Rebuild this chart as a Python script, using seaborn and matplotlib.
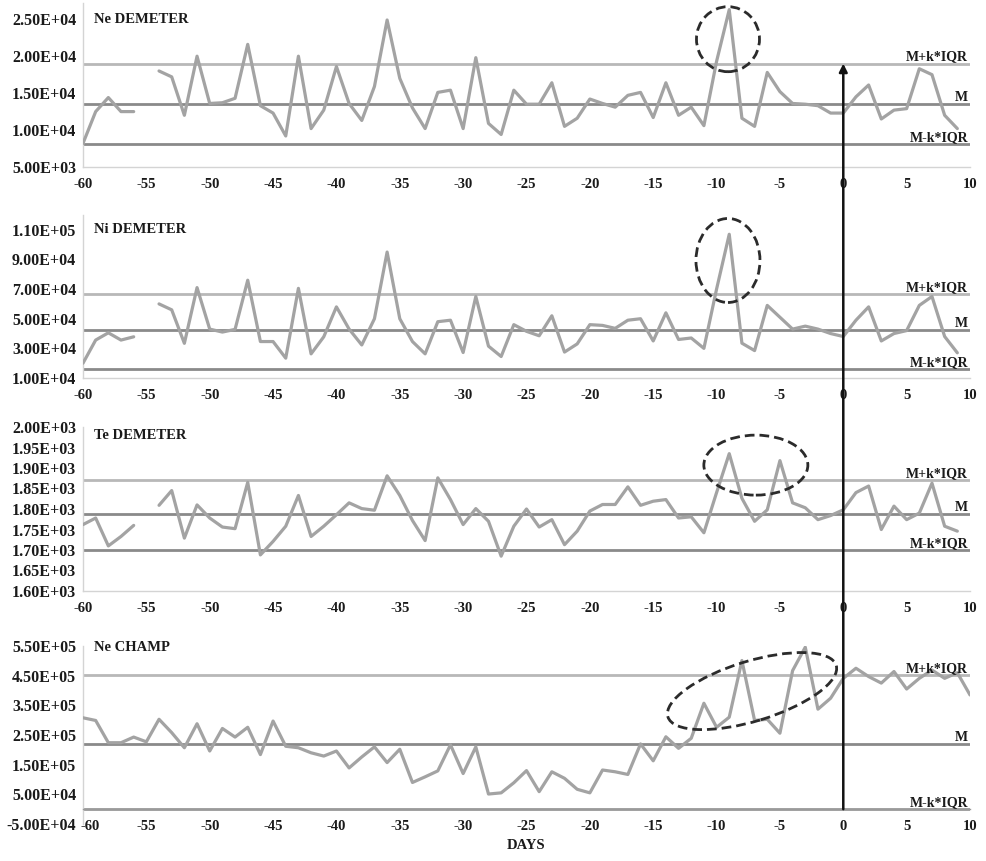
import numpy as np
import pandas as pd
import matplotlib
matplotlib.use("Agg")
import matplotlib.pyplot as plt
import seaborn as sns
from matplotlib.patches import Ellipse
from matplotlib.transforms import ScaledTranslation, blended_transform_factory, offset_copy

nan = np.nan

# ---------------- data ----------------
days_demeter = list(range(-60, 10))
days_champ = list(range(-60, 11))

ne_demeter = [8200, 12500, 14400, 12500, 12500, nan, 18000, 17200, 12000, 20000,
              13600, 13700, 14300, 21600, 13300, 12300, 9200, 20000, 10200, 12700,
              18600, 13600, 11300, 15900, 24900, 17000, 13000, 10200, 15100, 15400,
              10200, 19800, 10900, 9400, 15400, 13500, 13500, 16400, 10500, 11600,
              14200, 13600, 13100, 14700, 15100, 11700, 16400, 12000, 13100, 10600,
              19300, 26300, 11600, 10500, 17800, 15200, 13600, 13500, 13300, 12300,
              12300, 14500, 16100, 11500, 12700, 12900, 18300, 17500, 12000, 10200]

ni_demeter = [20000, 35600, 40500, 35600, 37800, nan, 60000, 56000, 33400, 71000,
              43000, 41000, 42800, 76000, 34600, 34600, 23400, 70500, 26300, 37800,
              58000, 43000, 32300, 50000, 95000, 50000, 34600, 26300, 48000, 49000,
              27200, 65000, 31500, 24500, 46000, 41500, 38500, 52000, 27500, 33000,
              46000, 45500, 43500, 49000, 50000, 35000, 54000, 36000, 37000, 30000,
              70000, 107000, 33500, 28500, 59000, 51000, 43000, 45000, 43000, 40000,
              38000, 49000, 58000, 35000, 40000, 42000, 59000, 65000, 38000, 27000]

te_demeter = [1762, 1778, 1710, 1733, 1760, nan, 1809, 1845, 1729, 1810,
              1778, 1756, 1752, 1865, 1688, 1721, 1758, 1833, 1733, 1758,
              1786, 1815, 1801, 1797, 1881, 1833, 1772, 1723, 1876, 1823,
              1762, 1801, 1770, 1685, 1758, 1800, 1756, 1774, 1713, 1746,
              1795, 1811, 1811, 1854, 1809, 1819, 1823, 1778, 1781, 1742,
              1840, 1935, 1826, 1770, 1798, 1918, 1815, 1803, 1774, 1784,
              1798, 1840, 1856, 1750, 1807, 1774, 1790, 1863, 1758, 1746]

ne_champ = [308000, 299000, 224000, 224000, 243000, 227000, 303000, 258000, 207000, 288000,
            196000, 272000, 243000, 276000, 184000, 297000, 212000, 207000, 190000, 179000,
            196000, 139000, 176000, 210000, 157000, 202000, 90000, 109000, 129000, 217000,
            120000, 210000, 51000, 55000, 89000, 130000, 59000, 126000, 104000, 67000,
            55000, 132000, 126000, 117000, 220000, 163000, 244000, 205000, 239000, 357000,
            276000, 310000, 501000, 299000, 303000, 256000, 467000, 546000, 337000, 374000,
            441000, 475000, 447000, 425000, 464000, 405000, 441000, 469000, 441000, 460000,
            385000]

panel_titles = ["Ne DEMETER", "Ni DEMETER", "Te DEMETER", "Ne CHAMP"]
upper_limit = [19000, 66600, 1870, 452000]   # M+k*IQR
median_line = [13500, 42600, 1788, 221000]   # M
lower_limit = [8100, 16300, 1700, 0]         # M-k*IQR

ne_ticks = [5000, 10000, 15000, 20000, 25000]
ni_ticks = [10000, 30000, 50000, 70000, 90000, 110000]
te_ticks = [1600, 1650, 1700, 1750, 1800, 1850, 1900, 1950, 2000]
champ_ticks = [-50000, 50000, 150000, 250000, 350000, 450000, 550000]
x_ticks = [-60, -55, -50, -45, -40, -35, -30, -25, -20, -15, -10, -5, 0, 5, 10]

# ---------------- style ----------------
sns.set_style("white")
plt.rcParams["font.family"] = ["Liberation Serif", "DejaVu Serif"]
plt.rcParams["font.weight"] = "bold"

DPI = 100
fig = plt.figure(figsize=(9.86, 8.61), dpi=DPI)
W, H = 986, 861
left, right = 83, 970

def add_ax(top_px, bottom_px):
    return fig.add_axes([left / W, 1 - bottom_px / H, (right - left) / W, (bottom_px - top_px) / H])

ax1 = add_ax(3, 167)
ax2 = add_ax(215, 378)
ax3 = add_ax(427, 591)
ax4 = add_ax(646, 824)
axes = [ax1, ax2, ax3, ax4]

series = [(days_demeter, ne_demeter), (days_demeter, ni_demeter),
          (days_demeter, te_demeter), (days_champ, ne_champ)]
ylims = [(5000, 27200), (10000, 120000), (1600, 2000), (-50000, 550000)]
yticks = [ne_ticks, ni_ticks, te_ticks, champ_ticks]

DATA_C = "#a3a3a3"
MED_C = "#8a8a8a"
LIM_C = "#b8b8b8"
SPINE_C = "#d4d4d4"
TXT_C = "#1a1a1a"

for i, ax in enumerate(axes):
    d, v = series[i]
    df = pd.DataFrame({"day": d, "value": v})
    # split the line where a day is missing
    df["seg"] = df["value"].isna().cumsum()
    df = df.dropna()
    sns.lineplot(data=df, x="day", y="value", units="seg", estimator=None,
                 color=DATA_C, lw=2.3, ax=ax, legend=False, zorder=3)
    ax.axhline(upper_limit[i], color=LIM_C, lw=2.0, zorder=2)
    ax.axhline(median_line[i], color=MED_C, lw=2.0, zorder=2)
    ax.axhline(lower_limit[i], color=MED_C if i < 3 else "#9a9a9a", lw=2.0, zorder=2)

    ax.set_xlim(-60, 10)
    ax.set_ylim(*ylims[i])
    ax.set_xticks(x_ticks)
    ax.set_xticklabels([str(t) for t in x_ticks])
    ax.set_yticks(yticks[i])
    ax.set_yticklabels([f"{t:.2E}" for t in yticks[i]])
    ax.set_xlabel("")
    ax.set_ylabel("")
    ax.tick_params(axis="both", length=0, labelsize=10.5, colors=TXT_C)
    ax.tick_params(axis="x", pad=8)
    ax.tick_params(axis="y", pad=5, labelsize=11.5)
    for lab in ax.get_xticklabels() + ax.get_yticklabels():
        lab.set_fontweight("bold")
    for s in ["top", "right"]:
        ax.spines[s].set_visible(False)
    ax.spines["left"].set_color(SPINE_C)
    ax.spines["bottom"].set_color(SPINE_C)
    ax.spines["left"].set_linewidth(1.0)
    ax.spines["bottom"].set_linewidth(1.0)
    ax.patch.set_alpha(0)

    tr = blended_transform_factory(ax.transAxes, ax.transData)
    ax.text(0.998, upper_limit[i], "M+k*IQR", transform=tr, ha="right", va="bottom",
            fontsize=10, fontweight="bold", color=TXT_C)
    ax.text(0.998, median_line[i], "M", transform=tr, ha="right", va="bottom",
            fontsize=10, fontweight="bold", color=TXT_C)
    ax.text(0.998, lower_limit[i], "M-k*IQR", transform=tr, ha="right", va="bottom",
            fontsize=10, fontweight="bold", color=TXT_C)

title_y = [0.902, 0.908, 0.951, 0.994]
for ax, t, ty in zip(axes, panel_titles, title_y):
    ax.text(0.012, ty, t, transform=ax.transAxes, ha="left", va="center",
            fontsize=10.5, fontweight="bold", color=TXT_C)

# panel 4: x axis crosses at 0
ax4.spines["bottom"].set_position(("data", 0))
ax4.spines["bottom"].set_color("#9a9a9a")
ax4.set_xlabel("DAYS", fontsize=10.5, fontweight="bold", labelpad=4, color=TXT_C)
# nudge the first day label right, as in the reference, to clear the y label
first_lab = ax4.get_xticklabels()[0]
first_lab.set_transform(offset_copy(first_lab.get_transform(), fig=fig, x=7, y=0, units="dots"))

# dashed ellipses around anomalies
def add_ellipse(ax, cx, cy, w_px, h_px, angle=0):
    tr = fig.dpi_scale_trans + ScaledTranslation(cx, cy, ax.transData)
    e = Ellipse((0, 0), w_px / DPI, h_px / DPI, angle=angle, transform=tr,
                fill=False, ls=(0, (3.5, 1.8)), lw=2.0, ec="#2b2b2b", clip_on=False, zorder=5)
    ax.add_patch(e)

add_ellipse(ax1, -9.1, 22300, 63, 65)
add_ellipse(ax2, -9.1, 89300, 64, 84)
add_ellipse(ax3, -6.9, 1907, 104, 60)
add_ellipse(ax4, -7.2, 398000, 176, 60, angle=17)

# vertical arrow at day 0 spanning all panels
ax4.annotate("", xy=(0, upper_limit[0]), xycoords=ax1.transData,
             xytext=(0, 0), textcoords=ax4.transData,
             arrowprops=dict(arrowstyle="-|>", color="#111111", lw=1.8,
                             shrinkA=0, shrinkB=0, mutation_scale=12),
             annotation_clip=False, zorder=10)

fig.savefig("out.png", dpi=DPI)
